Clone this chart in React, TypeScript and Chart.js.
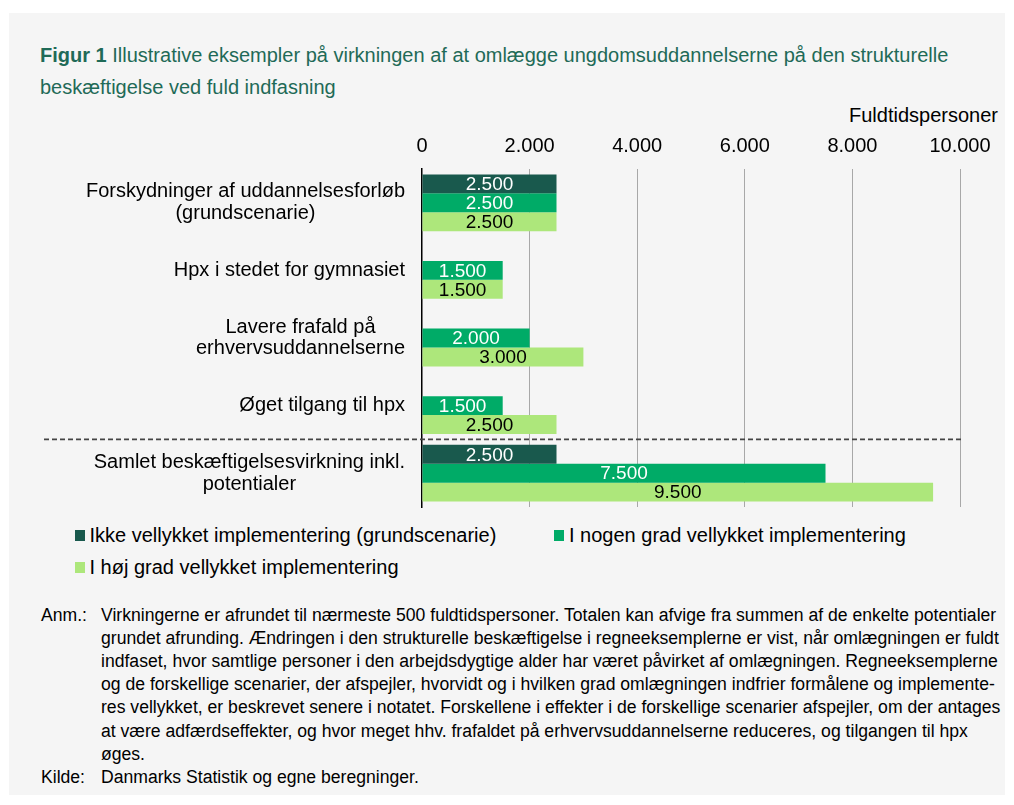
import React, { useEffect, useRef } from "react";
import { Chart, registerables } from "chart.js";

Chart.register(...registerables);

const FONT = '"Liberation Sans", Arial, Helvetica, sans-serif';

// ---------- data ----------
const categories: string[][] = [
  ["Forskydninger af uddannelsesforløb", "(grundscenarie)"],
  ["Hpx i stedet for gymnasiet"],
  ["Lavere frafald på", "erhvervsuddannelserne"],
  ["Øget tilgang til hpx"],
  ["Samlet beskæftigelsesvirkning inkl.", "potentialer"],
];

const seriesNames = [
  "Ikke vellykket implementering (grundscenarie)",
  "I nogen grad vellykket implementering",
  "I høj grad vellykket implementering",
];

const ikkeVellykket: (number | null)[] = [2500, null, null, null, 2500];
const nogenGrad: (number | null)[] = [2500, 1500, 2000, 1500, 7500];
const hoejGrad: (number | null)[] = [2500, 1500, 3000, 2500, 9500];

const xTickValues = [0, 2000, 4000, 6000, 8000, 10000];
const axisTitle = "Fuldtidspersoner";

const seriesColors = ["#19594d", "#00ab67", "#ade77b"];
const valueLabelColors = ["#ffffff", "#ffffff", "#000000"];

const titleBold = "Figur 1";
const titleLines = [
  "Illustrative eksempler på virkningen af at omlægge ungdomsuddannelserne på den strukturelle",
  "beskæftigelse ved fuld indfasning",
];

const noteLines = [
  "Virkningerne er afrundet til nærmeste 500 fuldtidspersoner. Totalen kan afvige fra summen af de enkelte potentialer",
  "grundet afrunding. Ændringen i den strukturelle beskæftigelse i regneeksemplerne er vist, når omlægningen er fuldt",
  "indfaset, hvor samtlige personer i den arbejdsdygtige alder har været påvirket af omlægningen. Regneeksemplerne",
  "og de forskellige scenarier, der afspejler, hvorvidt og i hvilken grad omlægningen indfrier formålene og implemente-",
  "res vellykket, er beskrevet senere i notatet. Forskellene i effekter i de forskellige scenarier afspejler, om der antages",
  "at være adfærdseffekter, og hvor meget hhv. frafaldet på erhvervsuddannelserne reduceres, og tilgangen til hpx",
  "øges.",
];
const sourceText = "Danmarks Statistik og egne beregninger.";

const fmt = (v: number) =>
  String(Math.round(v)).replace(/\B(?=(\d{3})+(?!\d))/g, ".");

// ---------- plugins ----------
const valueLabelsPlugin = {
  id: "valueLabels",
  afterDatasetsDraw(chart: any) {
    const ctx = chart.ctx;
    ctx.save();
    ctx.font = `19px ${FONT}`;
    ctx.textAlign = "center";
    ctx.textBaseline = "middle";
    chart.data.datasets.forEach((ds: any, di: number) => {
      const meta = chart.getDatasetMeta(di);
      meta.data.forEach((bar: any, i: number) => {
        const v = ds.data[i];
        if (v === null || v === undefined) return;
        const p = bar.getProps(["x", "y", "base"], true);
        ctx.fillStyle = valueLabelColors[di];
        ctx.fillText(fmt(v), (p.x + p.base) / 2, p.y + 1);
      });
    });
    ctx.restore();
  },
};

const categoryLabelsPlugin = {
  id: "categoryLabels",
  afterDraw(chart: any) {
    const { ctx, chartArea } = chart;
    const yScale = chart.scales.y;
    ctx.save();
    ctx.font = `20px ${FONT}`;
    ctx.fillStyle = "#000000";
    ctx.textAlign = "center";
    ctx.textBaseline = "middle";
    const right = chartArea.left - 17;
    const lh = 21.7;
    categories.forEach((lines, i) => {
      const w = Math.max(...lines.map((l) => ctx.measureText(l).width));
      const cx = right - w / 2;
      const cy = yScale.getPixelForValue(i);
      lines.forEach((l, j) => {
        ctx.fillText(l, cx, cy + (j - (lines.length - 1) / 2) * lh);
      });
    });
    // dashed separator between detailed items and the total
    const sepY =
      (yScale.getPixelForValue(categories.length - 2) +
        yScale.getPixelForValue(categories.length - 1)) /
      2;
    ctx.beginPath();
    ctx.setLineDash([5, 3]);
    ctx.lineWidth = 1.6;
    ctx.strokeStyle = "#444444";
    ctx.moveTo(35, sepY);
    ctx.lineTo(chartArea.right + 2.5, sepY);
    ctx.stroke();
    ctx.restore();
  },
};

function BarChart() {
  const ref = useRef<HTMLCanvasElement | null>(null);
  useEffect(() => {
    if (!ref.current) return;
    const seriesData = [ikkeVellykket, nogenGrad, hoejGrad];
    const chart = new Chart(ref.current, {
      type: "bar",
      data: {
        labels: categories.map((c) => c.join(" ")),
        datasets: seriesNames.map((name, i) => ({
          label: name,
          data: seriesData[i] as any,
          backgroundColor: seriesColors[i],
          borderWidth: 0,
          categoryPercentage: 0.84,
          barPercentage: 1.0,
        })),
      },
      options: {
        indexAxis: "y",
        animation: false,
        responsive: false,
        maintainAspectRatio: false,
        layout: { padding: { left: 413, right: 45, top: 0, bottom: 5 } },
        plugins: {
          legend: { display: false },
          tooltip: { enabled: false },
        },
        scales: {
          x: {
            position: "top",
            min: 0,
            max: 10000,
            afterBuildTicks: (scale: any) => {
              scale.ticks = xTickValues.map((v) => ({ value: v }));
            },
            ticks: {
              color: "#000000",
              font: { family: FONT, size: 20 },
              padding: 11,
              maxRotation: 0,
              callback: (v: any) => fmt(Number(v)),
            },
            grid: {
              drawTicks: false,
              lineWidth: 1,
              color: (c: any) => (c.index === 0 ? "rgba(0,0,0,0)" : "#a8a8a8"),
            },
            border: { display: false },
          },
          y: {
            ticks: { display: false },
            grid: { display: false, drawTicks: false },
            border: { display: true, color: "#000000", width: 1.5 },
          },
        },
      },
      plugins: [valueLabelsPlugin, categoryLabelsPlugin],
    });
    return () => chart.destroy();
  }, []);
  return (
    <canvas
      ref={ref}
      width={996}
      height={389}
      style={{ position: "absolute", left: 0, top: 110, width: 996, height: 389 }}
    />
  );
}

export default function App() {
  const legendPos = [
    { left: 65.5, top: 510 },
    { left: 545, top: 510 },
    { left: 65.5, top: 542 },
  ];
  return (
    <div
      style={{
        position: "absolute",
        left: 9,
        top: 13,
        width: 996,
        height: 782,
        background: "#f5f5f5",
        fontFamily: FONT,
        color: "#000",
      }}
    >
      <div
        style={{
          position: "absolute",
          left: 31,
          top: 26,
          fontSize: 20,
          lineHeight: "32px",
          color: "#1f6a57",
          whiteSpace: "nowrap",
        }}
      >
        <b>{titleBold}</b> {titleLines[0]}
        <br />
        {titleLines[1]}
      </div>
      <div
        style={{
          position: "absolute",
          right: 7,
          top: 90,
          fontSize: 20,
          lineHeight: "24px",
          whiteSpace: "nowrap",
        }}
      >
        {axisTitle}
      </div>
      <BarChart />
      {seriesNames.map((name, i) => (
        <div
          key={name}
          style={{
            position: "absolute",
            left: legendPos[i].left,
            top: legendPos[i].top,
            height: 24,
            display: "flex",
            alignItems: "center",
            fontSize: 20,
            lineHeight: "24px",
            whiteSpace: "nowrap",
          }}
        >
          <span
            style={{
              display: "inline-block",
              width: 10,
              height: 11,
              background: seriesColors[i],
              marginRight: 5,
            }}
          />
          <span>{name}</span>
        </div>
      ))}
      <div
        style={{
          position: "absolute",
          left: 32,
          top: 590.5,
          fontSize: 17.6,
          lineHeight: "23.2px",
          whiteSpace: "nowrap",
        }}
      >
        <div style={{ display: "flex" }}>
          <div style={{ width: 60 }}>Anm.:</div>
          <div>
            {noteLines.map((l, i) => (
              <div key={i}>{l}</div>
            ))}
          </div>
        </div>
        <div style={{ display: "flex" }}>
          <div style={{ width: 60 }}>Kilde:</div>
          <div>{sourceText}</div>
        </div>
      </div>
    </div>
  );
}
